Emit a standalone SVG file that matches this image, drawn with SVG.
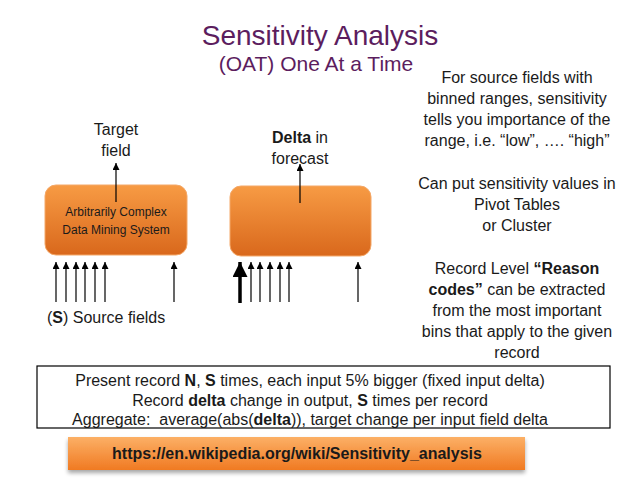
<svg xmlns="http://www.w3.org/2000/svg" width="638" height="479" viewBox="0 0 638 479">
<defs>
<linearGradient id="og" x1="0" y1="0" x2="0" y2="1">
<stop offset="0" stop-color="#f79b44"/>
<stop offset="1" stop-color="#d9681c"/>
</linearGradient>
<linearGradient id="og2" x1="0" y1="0" x2="0" y2="1">
<stop offset="0" stop-color="#fcb066"/>
<stop offset="1" stop-color="#f07a22"/>
</linearGradient>
<filter id="sh" x="-10%" y="-20%" width="120%" height="160%">
<feGaussianBlur in="SourceAlpha" stdDeviation="2"/>
<feOffset dx="0" dy="3"/>
<feComponentTransfer><feFuncA type="linear" slope="0.35"/></feComponentTransfer>
<feMerge><feMergeNode/><feMergeNode in="SourceGraphic"/></feMerge>
</filter>
<marker id="ah" viewBox="0 0 10 10" refX="10" refY="5" markerWidth="7" markerHeight="7" markerUnits="userSpaceOnUse" orient="auto">
<path d="M0,0 L10,5 L0,10 z" fill="#000"/>
</marker>
<marker id="ahb" viewBox="0 0 10 10" refX="10" refY="5" markerWidth="15" markerHeight="15" markerUnits="userSpaceOnUse" orient="auto">
<path d="M0,0 L10,5 L0,10 z" fill="#000"/>
</marker>
</defs>
<style>
text{font-family:"Liberation Sans",Arial,sans-serif;fill:#1a1a1a}
.t{fill:#5c1d5e}
.c{text-anchor:middle}
.a{stroke:#000;stroke-width:1.2;fill:none;marker-end:url(#ah)}
.ab{stroke:#000;stroke-width:3.5;fill:none;marker-end:url(#ahb)}
.s{font-size:16px}
.b{font-weight:bold}
</style>
<g id="title">
<text class="t c" x="320" y="45" font-size="28">Sensitivity Analysis</text>
<text class="t c" x="316" y="71" font-size="21">(OAT) One At a Time</text>
</g>
<g id="box1">
<rect x="45" y="185" width="142" height="70" rx="11" fill="url(#og)" stroke="#f4a868" stroke-width="1"/>
<text class="c" x="116" y="216" font-size="12" fill="#222">Arbitrarily Complex</text>
<text class="c" x="116" y="234" font-size="12" fill="#222">Data Mining System</text>
</g>
<g id="box2">
<rect x="230" y="186" width="141" height="70" rx="11" fill="url(#og)" stroke="#f4a868" stroke-width="1"/>
</g>
<g id="labels">
<text class="c s" x="116" y="135">Target</text>
<text class="c s" x="116" y="156">field</text>
<text class="c s" x="300" y="143"><tspan class="b">Delta</tspan> in</text>
<text class="c s" x="300" y="164">forecast</text>
<text class="s" x="47" y="323">(<tspan class="b">S</tspan>) Source fields</text>
</g>
<g id="connectors">
<line class="a" x1="116" y1="202" x2="116" y2="163"/>
<line class="a" x1="300" y1="203" x2="300" y2="164"/>
<line class="a" x1="56" y1="302" x2="56" y2="262"/>
<line class="a" x1="66" y1="302" x2="66" y2="262"/>
<line class="a" x1="76" y1="302" x2="76" y2="262"/>
<line class="a" x1="85" y1="302" x2="85" y2="262"/>
<line class="a" x1="95" y1="302" x2="95" y2="262"/>
<line class="a" x1="105" y1="302" x2="105" y2="262"/>
<line class="a" x1="174" y1="302" x2="174" y2="262"/>
<line class="ab" x1="240" y1="303" x2="240" y2="262"/>
<line class="a" x1="251" y1="302" x2="251" y2="262"/>
<line class="a" x1="260" y1="302" x2="260" y2="262"/>
<line class="a" x1="270" y1="302" x2="270" y2="262"/>
<line class="a" x1="280" y1="302" x2="280" y2="262"/>
<line class="a" x1="289" y1="302" x2="289" y2="262"/>
<line class="a" x1="358" y1="302" x2="358" y2="262"/>
</g>
<g id="notes">
<text class="c s" x="517" y="83">For source fields with</text>
<text class="c s" x="517" y="104">binned ranges, sensitivity</text>
<text class="c s" x="517" y="125">tells you importance of the</text>
<text class="c s" x="517" y="146">range, i.e. “low”, …. “high”</text>
<text class="c s" x="517" y="189">Can put sensitivity values in</text>
<text class="c s" x="517" y="210">Pivot Tables</text>
<text class="c s" x="517" y="231">or Cluster</text>
<text class="c s" x="517" y="274">Record Level <tspan class="b">“Reason</tspan></text>
<text class="c s" x="517" y="295"><tspan class="b">codes”</tspan> can be extracted</text>
<text class="c s" x="517" y="316">from the most important</text>
<text class="c s" x="517" y="337">bins that apply to the given</text>
<text class="c s" x="517" y="358">record</text>
</g>
<g id="method">
<rect x="37" y="366" width="573" height="62" fill="#fff" stroke="#000" stroke-width="1.2"/>
<text class="c s" x="310" y="386">Present record <tspan class="b">N</tspan>, <tspan class="b">S</tspan> times, each input 5% bigger (fixed input delta)</text>
<text class="c s" x="310" y="406">Record <tspan class="b">delta</tspan> change in output, <tspan class="b">S</tspan> times per record</text>
<text class="c s" x="310" y="425">Aggregate:&#160; average(abs(<tspan class="b">delta</tspan>)), target change per input field delta</text>
</g>
<g id="link">
<rect x="68" y="437" width="457" height="33" fill="url(#og2)" filter="url(#sh)"/>
<text class="c s b" x="297" y="459">https://en.wikipedia.org/wiki/Sensitivity_analysis</text>
</g>
</svg>
